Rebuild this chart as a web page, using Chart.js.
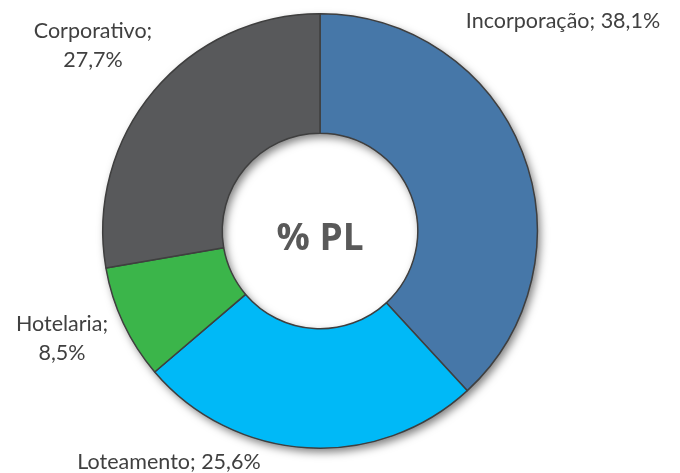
<!DOCTYPE html>
<html>
<head>
<meta charset="utf-8">
<script src="https://cdn.jsdelivr.net/npm/chart.js@4"></script>
<style>
  html, body { margin: 0; padding: 0; background: #fff; }
  #wrap { width: 680px; height: 473px; }
</style>
</head>
<body>
<div id="wrap"><canvas id="chart" width="680" height="473"></canvas></div>
<script>
// data
const categories = ['Incorporação', 'Loteamento', 'Hotelaria', 'Corporativo'];
const shares = [38.1, 25.6, 8.5, 27.7];
const sliceColors = ['#4677a8', '#00b9f7', '#3bb54a', '#58595b'];
const centerTitle = '% PL';

// label anchors (text lines, centred at x, y)
const labelSpots = [
  { lines: ['Incorporação; 38,1%'], x: 563, y: 21 },
  { lines: ['Loteamento; 25,6%'], x: 169, y: 462 },
  { lines: ['Hotelaria;', '8,5%'], x: 62, y: 324 },
  { lines: ['Corporativo;', '27,7%'], x: 93, y: 31 }
];

// soft shadow under the whole ring
const ringShadow = {
  id: 'ringShadow',
  beforeDatasetsDraw(chart) {
    const arc = chart.getDatasetMeta(0).data[0];
    if (!arc) return;
    const { x, y, outerRadius, innerRadius } = arc.getProps(['x', 'y', 'outerRadius', 'innerRadius'], true);
    const ctx = chart.ctx;
    ctx.save();
    ctx.shadowColor = 'rgba(0,0,0,0.5)';
    ctx.shadowBlur = 8;
    ctx.shadowOffsetX = 3;
    ctx.shadowOffsetY = 4;
    ctx.beginPath();
    ctx.arc(x, y, outerRadius, 0, Math.PI * 2);
    ctx.arc(x, y, innerRadius, 0, Math.PI * 2, true);
    ctx.fillStyle = '#555';
    ctx.fill('evenodd');
    ctx.restore();
  }
};

const textLayer = {
  id: 'textLayer',
  afterDatasetsDraw(chart) {
    const ctx = chart.ctx;
    const arc = chart.getDatasetMeta(0).data[0];
    ctx.save();
    ctx.textAlign = 'center';
    ctx.textBaseline = 'middle';
    ctx.fillStyle = '#404040';
    ctx.font = '21.5px Lato, "Open Sans", sans-serif';
    labelSpots.forEach(s => {
      s.lines.forEach((ln, j) => ctx.fillText(ln, s.x, s.y + j * 29));
    });
    ctx.fillStyle = '#595959';
    ctx.font = 'bold 37px "Open Sans", Lato, sans-serif';
    ctx.fillText(centerTitle, arc.x, arc.y + 8);
    ctx.restore();
  }
};

new Chart(document.getElementById('chart'), {
  type: 'doughnut',
  data: {
    labels: categories,
    datasets: [{
      data: shares,
      backgroundColor: sliceColors,
      borderColor: '#3f3f3f',
      borderWidth: 1.5,
      borderAlign: 'center'
    }]
  },
  options: {
    responsive: false,
    animation: false,
    cutout: '45%',
    layout: { padding: { top: 13, bottom: 24, left: 102, right: 142 } },
    plugins: {
      legend: { display: false },
      tooltip: { enabled: false }
    }
  },
  plugins: [ringShadow, textLayer]
});
</script>
</body>
</html>
